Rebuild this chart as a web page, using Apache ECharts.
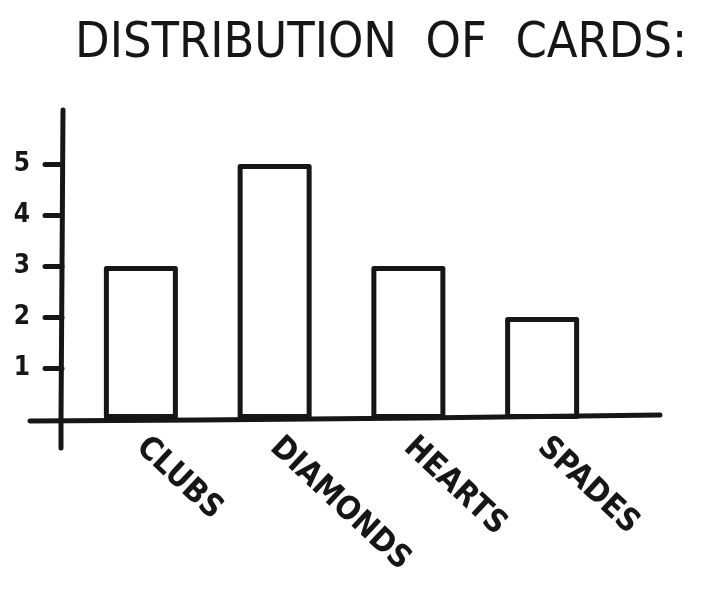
<!DOCTYPE html>
<html>
<head>
<meta charset="utf-8">
<script src="https://cdn.jsdelivr.net/npm/echarts@6/dist/echarts.min.js"></script>
<style>
  html, body { margin: 0; padding: 0; background: #fff; }
  #chart { width: 703px; height: 590px; }
</style>
</head>
<body>
<div id="chart"></div>
<script>
// Card counts by suit
const titleText = 'DISTRIBUTION  OF  CARDS:';
const suits = ['CLUBS', 'DIAMONDS', 'HEARTS', 'SPADES'];
const counts = [3, 5, 3, 2];
const tickValues = [1, 2, 3, 4, 5];

const ink = '#161616';
const handFont = '"DejaVu Sans Condensed", "DejaVu Sans", sans-serif';

const chart = echarts.init(document.getElementById('chart'));

chart.setOption({
  backgroundColor: '#ffffff',
  animation: false,
  title: {
    text: titleText,
    left: 70,
    top: 14,
    textStyle: {
      fontFamily: handFont,
      fontSize: 50,
      fontWeight: 'normal',
      color: ink
    }
  },
  grid: { left: 74, right: 94, top: 113, bottom: 171 },
  xAxis: {
    type: 'category',
    data: suits,
    boundaryGap: true,
    axisLine: { show: false },
    axisTick: { show: false },
    axisLabel: {
      rotate: -43,
      margin: 24,
      color: ink,
      fontFamily: handFont,
      fontSize: 32,
      fontWeight: 'bold'
    }
  },
  yAxis: {
    type: 'value',
    min: 0,
    max: 6,
    interval: 1,
    offset: 12,
    splitLine: { show: false },
    axisLine: { show: false },
    axisTick: {
      show: true,
      length: 17,
      customValues: tickValues,
      lineStyle: { color: ink, width: 5, cap: 'round' }
    },
    axisLabel: {
      customValues: tickValues,
      margin: 32,
      color: ink,
      fontFamily: handFont,
      fontSize: 26,
      fontWeight: 'bold'
    }
  },
  series: [{
    type: 'bar',
    data: counts,
    barWidth: 74,
    itemStyle: {
      color: '#ffffff',
      borderColor: ink,
      borderWidth: 5,
      borderJoin: 'round'
    },
    z: 3
  }]
});

// Hand-drawn axis lines, anchored to the value scale
const y0 = chart.convertToPixel({ yAxisIndex: 0 }, 0);
const yTop = chart.convertToPixel({ yAxisIndex: 0 }, 6);
const axisX = 62;

chart.setOption({
  graphic: [
    {
      type: 'polyline',
      z: 10,
      shape: { points: [[axisX + 1, yTop - 3], [axisX, y0 - 150], [axisX - 1, y0], [axisX - 1, y0 + 29]] },
      style: { stroke: ink, lineWidth: 5, fill: null, lineCap: 'round', lineJoin: 'round' }
    },
    {
      type: 'polyline',
      z: 10,
      shape: { points: [[30, y0 + 2], [200, y0 + 1], [420, y0 - 1], [660, y0 - 4]] },
      style: { stroke: ink, lineWidth: 5, fill: null, lineCap: 'round', lineJoin: 'round' }
    }
  ]
});
</script>
</body>
</html>
